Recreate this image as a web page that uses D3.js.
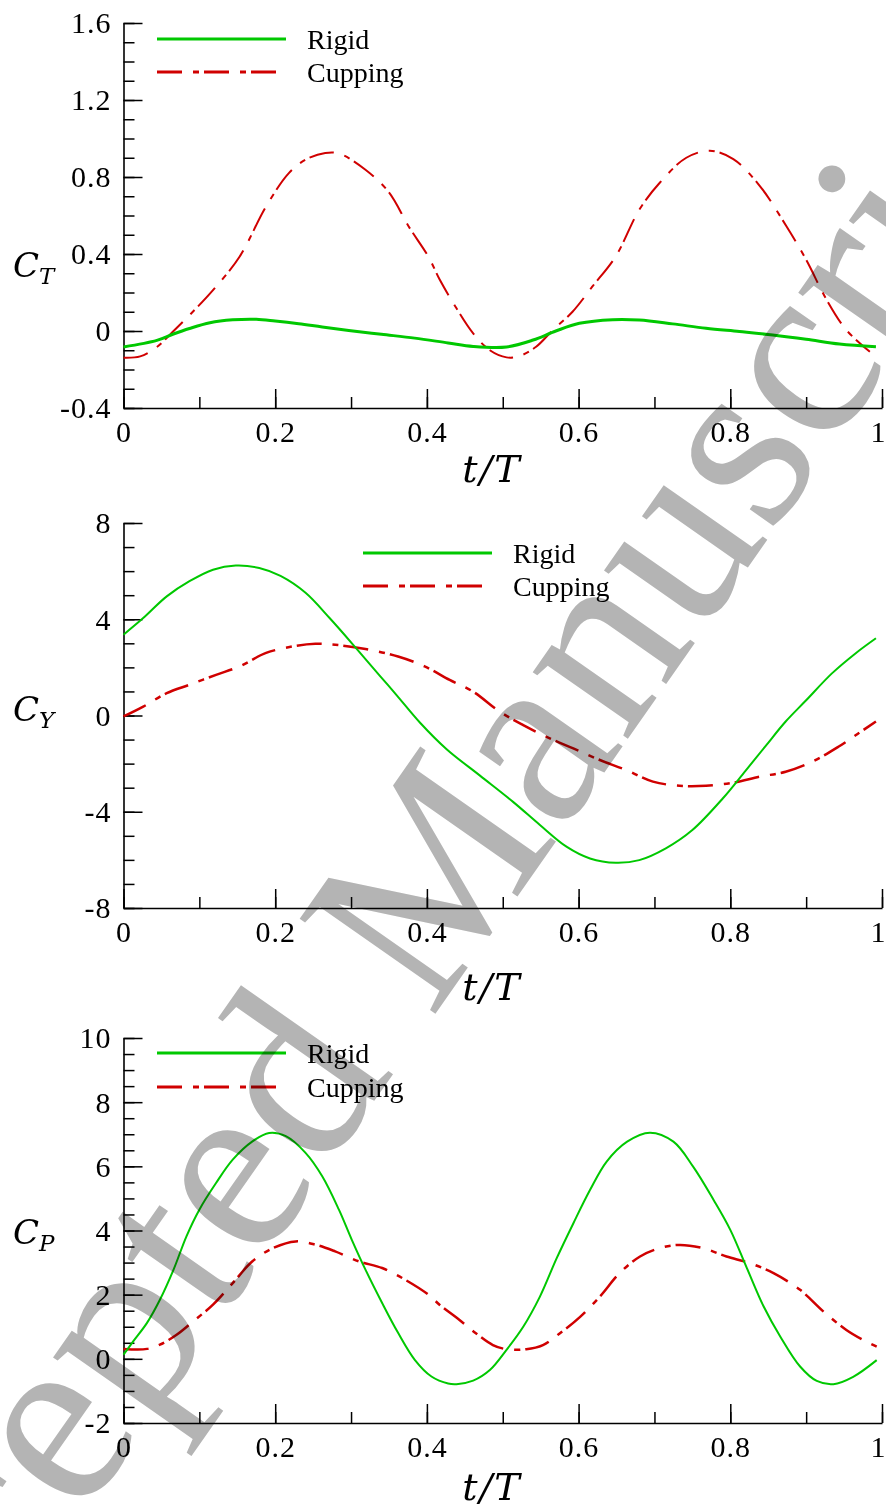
<!DOCTYPE html>
<html>
<head>
<meta charset="utf-8">
<script src="https://cdn.jsdelivr.net/npm/d3@7"></script>
<style>
  html, body { margin: 0; padding: 0; background: #fff; }
  svg { display: block; }
</style>
</head>
<body>
<svg id="chart" width="886" height="1510"></svg>
<script>
// ---- Panel 1: thrust coefficient C_T ----
const ctRigidT = [0, 0.044, 0.065, 0.087, 0.114, 0.144, 0.175, 0.2, 0.231, 0.262, 0.297, 0.34, 0.384, 0.428, 0.461, 0.505, 0.54, 0.57, 0.601, 0.645, 0.68, 0.724, 0.768, 0.812, 0.856, 0.9, 0.944, 0.992];
const ctRigid  = [-0.083, -0.049, -0.017, 0.013, 0.043, 0.058, 0.061, 0.052, 0.038, 0.021, 0.003, -0.017, -0.037, -0.062, -0.08, -0.083, -0.047, 0.0, 0.040, 0.059, 0.057, 0.037, 0.014, -0.003, -0.021, -0.043, -0.068, -0.082];
const ctCupT = [0, 0.022, 0.044, 0.066, 0.087, 0.118, 0.153, 0.188, 0.218, 0.24, 0.266, 0.284, 0.319, 0.35, 0.376, 0.402, 0.417, 0.439, 0.461, 0.483, 0.505, 0.522, 0.544, 0.566, 0.592, 0.618, 0.649, 0.68, 0.707, 0.742, 0.773, 0.804, 0.839, 0.874, 0.9, 0.927, 0.953, 0.984];
const ctCup  = [-0.139, -0.132, -0.083, 0.0, 0.082, 0.212, 0.386, 0.647, 0.82, 0.89, 0.925, 0.922, 0.838, 0.72, 0.543, 0.386, 0.266, 0.118, -0.012, -0.1, -0.137, -0.13, -0.082, 0.005, 0.1, 0.23, 0.388, 0.63, 0.77, 0.9, 0.936, 0.893, 0.753, 0.544, 0.37, 0.162, 0.005, -0.108];
const ctTicks  = [-0.4, 0, 0.4, 0.8, 1.2, 1.6];
const ctLabels = ["-0.4", "0", "0.4", "0.8", "1.2", "1.6"];

// ---- Panel 2: lateral force coefficient C_Y ----
const cyRigidT = [0, 0.026, 0.057, 0.087, 0.118, 0.148, 0.179, 0.207, 0.24, 0.272, 0.308, 0.338, 0.36, 0.391, 0.426, 0.47, 0.514, 0.549, 0.584, 0.615, 0.649, 0.68, 0.715, 0.75, 0.79, 0.82, 0.847, 0.873, 0.899, 0.934, 0.965, 0.992];
const cyRigid  = [3.36, 4.05, 4.95, 5.58, 6.06, 6.23, 6.13, 5.8, 5.1, 4.04, 2.75, 1.65, 0.85, -0.3, -1.4, -2.5, -3.6, -4.55, -5.45, -5.94, -6.12, -6.01, -5.52, -4.76, -3.45, -2.3, -1.25, -0.25, 0.6, 1.75, 2.58, 3.21];
const cyCupT = [0, 0.026, 0.057, 0.087, 0.122, 0.153, 0.188, 0.223, 0.253, 0.279, 0.319, 0.362, 0.397, 0.43, 0.461, 0.496, 0.527, 0.562, 0.593, 0.628, 0.663, 0.698, 0.733, 0.768, 0.804, 0.839, 0.873, 0.908, 0.943, 0.969, 0.992];
const cyCup  = [-0.04, 0.37, 0.93, 1.28, 1.69, 2.04, 2.6, 2.87, 2.98, 2.94, 2.76, 2.45, 2.04, 1.48, 0.99, 0.16, -0.4, -0.95, -1.37, -1.85, -2.27, -2.75, -2.92, -2.92, -2.79, -2.54, -2.34, -1.92, -1.29, -0.74, -0.25];
const cyTicks  = [-8, -4, 0, 4, 8];
const cyLabels = ["-8", "-4", "0", "4", "8"];

// ---- Panel 3: power coefficient C_P ----
const cpRigidT = [0, 0.013, 0.031, 0.048, 0.066, 0.083, 0.1, 0.122, 0.144, 0.17, 0.192, 0.214, 0.24, 0.262, 0.284, 0.301, 0.319, 0.341, 0.362, 0.384, 0.406, 0.428, 0.439, 0.461, 0.483, 0.505, 0.527, 0.549, 0.571, 0.593, 0.615, 0.637, 0.664, 0.694, 0.725, 0.751, 0.778, 0.8, 0.822, 0.844, 0.866, 0.892, 0.914, 0.936, 0.962, 0.993];
const cpRigid  = [0.13, 0.55, 1.12, 1.84, 2.78, 3.82, 4.65, 5.48, 6.21, 6.78, 7.04, 6.94, 6.42, 5.69, 4.65, 3.71, 2.78, 1.74, 0.81, -0.03, -0.55, -0.77, -0.79, -0.68, -0.35, 0.28, 1.0, 1.94, 3.13, 4.22, 5.26, 6.15, 6.77, 7.05, 6.77, 5.99, 4.95, 4.02, 2.82, 1.63, 0.69, -0.24, -0.69, -0.79, -0.56, -0.04];
const cpCupT = [0, 0.031, 0.048, 0.07, 0.092, 0.118, 0.144, 0.17, 0.197, 0.227, 0.253, 0.279, 0.31, 0.341, 0.371, 0.402, 0.417, 0.443, 0.465, 0.487, 0.505, 0.531, 0.553, 0.575, 0.602, 0.628, 0.654, 0.681, 0.707, 0.733, 0.764, 0.795, 0.826, 0.857, 0.892, 0.923, 0.953, 0.975, 0.993];
const cpCup  = [0.31, 0.31, 0.44, 0.75, 1.17, 1.69, 2.36, 3.04, 3.45, 3.66, 3.56, 3.35, 3.04, 2.83, 2.47, 2.0, 1.68, 1.21, 0.79, 0.43, 0.3, 0.3, 0.43, 0.79, 1.31, 1.94, 2.67, 3.19, 3.45, 3.55, 3.45, 3.19, 2.98, 2.67, 2.15, 1.47, 0.9, 0.59, 0.38];
const cpTicks  = [-2, 0, 2, 4, 6, 8, 10];
const cpLabels = ["-2", "0", "2", "4", "6", "8", "10"];

// ---- shared x axis ----
const xTicks  = [0, 0.2, 0.4, 0.6, 0.8, 1];
const xLabels = ["0", "0.2", "0.4", "0.6", "0.8", "1"];
const seriesNames = ["Rigid", "Cupping"];
const watermarkText = "Accepted Manuscript";

const SERIF = "'Liberation Serif', 'Times New Roman', serif";
const MATH = "'DejaVu Serif', serif";
const GREEN = "#00c800";
const RED = "#d00000";
const DASH = "25,11,6,5";

const svg = d3.select("#chart");
const x = d3.scaleLinear().domain([0, 1]).range([123.5, 882]);

const panels = [
  { top: 23, bottom: 408, domain: [-0.4, 1.6], ticks: ctTicks, labels: ctLabels, minor: 0.1,
    rigid: [ctRigidT, ctRigid], cup: [ctCupT, ctCup], wRigid: 3, wCup: 2,
    sub: "T", titleY: 277, xTitleY: 482,
    legend: { x0: 157, x1: 286, y: 39, tx: 307, gap: 33 } },
  { top: 523, bottom: 908, domain: [-8, 8], ticks: cyTicks, labels: cyLabels, minor: 1,
    rigid: [cyRigidT, cyRigid], cup: [cyCupT, cyCup], wRigid: 2, wCup: 2.5,
    sub: "Y", titleY: 721, xTitleY: 1000,
    legend: { x0: 363, x1: 492, y: 553, tx: 513, gap: 33 } },
  { top: 1038, bottom: 1423, domain: [-2, 10], ticks: cpTicks, labels: cpLabels, minor: 0.5,
    rigid: [cpRigidT, cpRigid], cup: [cpCupT, cpCup], wRigid: 2, wCup: 2.5,
    sub: "P", titleY: 1244, xTitleY: 1500,
    legend: { x0: 157, x1: 286, y: 1053, tx: 307, gap: 34 } }
];

const minorRange = (lo, hi, step) => d3.range(Math.round((hi - lo) / step) + 1).map(i => lo + i * step);

panels.forEach(p => {
  const y = d3.scaleLinear().domain(p.domain).range([p.bottom, p.top]);
  const g = svg.append("g");

  // minor ticks
  g.append("g").attr("transform", `translate(${x.range()[0]},0)`)
    .call(d3.axisLeft(y).tickValues(minorRange(p.domain[0], p.domain[1], p.minor)).tickSize(-11).tickSizeOuter(0).tickFormat(""))
    .call(a => a.select(".domain").remove())
    .selectAll("line").attr("stroke", "#000").attr("stroke-width", 1.5);
  g.append("g").attr("transform", `translate(0,${p.bottom})`)
    .call(d3.axisBottom(x).tickValues(minorRange(0, 1, 0.1)).tickSize(-11).tickSizeOuter(0).tickFormat(""))
    .call(a => a.select(".domain").remove())
    .selectAll("line").attr("stroke", "#000").attr("stroke-width", 1.5);

  // major ticks with labels
  const yAxis = g.append("g").attr("transform", `translate(${x.range()[0]},0)`)
    .call(d3.axisLeft(y).tickValues(p.ticks).tickSize(-19).tickSizeOuter(0).tickPadding(12)
      .tickFormat((d, i) => p.labels[i]));
  yAxis.selectAll("text").attr("dy", "0.33em");
  const xAxis = g.append("g").attr("transform", `translate(0,${p.bottom})`)
    .call(d3.axisBottom(x).tickValues(xTicks).tickSize(-19).tickSizeOuter(0).tickPadding(13)
      .tickFormat((d, i) => xLabels[i]));
  // keep the last label inside the page edge
  xAxis.selectAll(".tick text").filter(d => d === 1).attr("text-anchor", "end").attr("x", 4);
  [yAxis, xAxis].forEach(a => {
    a.attr("font-family", SERIF).attr("font-size", 30);
    a.select(".domain").attr("stroke", "#000").attr("stroke-width", 1.6);
    a.selectAll(".tick line").attr("stroke", "#000").attr("stroke-width", 1.5);
    a.selectAll(".tick text").attr("fill", "#000")
      .style("font-family", SERIF).style("font-size", "30px").style("letter-spacing", "1px");
  });

  // curves
  const line = d3.line().x(d => x(d[0])).y(d => y(d[1])).curve(d3.curveCatmullRom.alpha(0.5));
  const rigidPts = p.rigid[0].map((t, i) => [t, p.rigid[1][i]]);
  const cupPts = p.cup[0].map((t, i) => [t, p.cup[1][i]]);
  g.append("path").datum(cupPts).attr("d", line)
    .attr("fill", "none").attr("stroke", RED).attr("stroke-width", p.wCup).attr("stroke-dasharray", DASH);
  g.append("path").datum(rigidPts).attr("d", line)
    .attr("fill", "none").attr("stroke", GREEN).attr("stroke-width", p.wRigid);

  // legend
  const L = p.legend;
  const lg = g.append("g");
  [GREEN, RED].forEach((c, i) => {
    const ly = L.y + i * L.gap;
    lg.append("line").attr("x1", L.x0).attr("x2", L.x1).attr("y1", ly).attr("y2", ly)
      .attr("stroke", c).attr("stroke-width", 3).attr("stroke-dasharray", i ? DASH : null);
    lg.append("text").attr("x", L.tx).attr("y", ly + 10)
      .style("font-family", SERIF).style("font-size", "28px").attr("fill", "#000")
      .text(seriesNames[i]);
  });

  // axis titles
  const yt = g.append("text").attr("x", 13).attr("y", p.titleY)
    .style("font-family", MATH).style("font-style", "italic").style("font-size", "34px");
  yt.append("tspan").text("C");
  yt.append("tspan").style("font-size", "23px").attr("dy", 7).text(p.sub);
  g.append("text").attr("x", 492).attr("y", p.xTitleY).attr("text-anchor", "middle")
    .style("font-family", MATH).style("font-style", "italic").style("font-size", "38px")
    .style("letter-spacing", "2px")
    .text("t/T");
});

// diagonal stamp across the page
svg.append("text")
  .attr("transform", "translate(-153,1854) rotate(-55)")
  .style("font-family", SERIF)
  .style("font-size", "253px")
  .attr("fill", "#b4b4b4")
  .style("mix-blend-mode", "multiply")
  .text(watermarkText);
</script>
</body>
</html>
